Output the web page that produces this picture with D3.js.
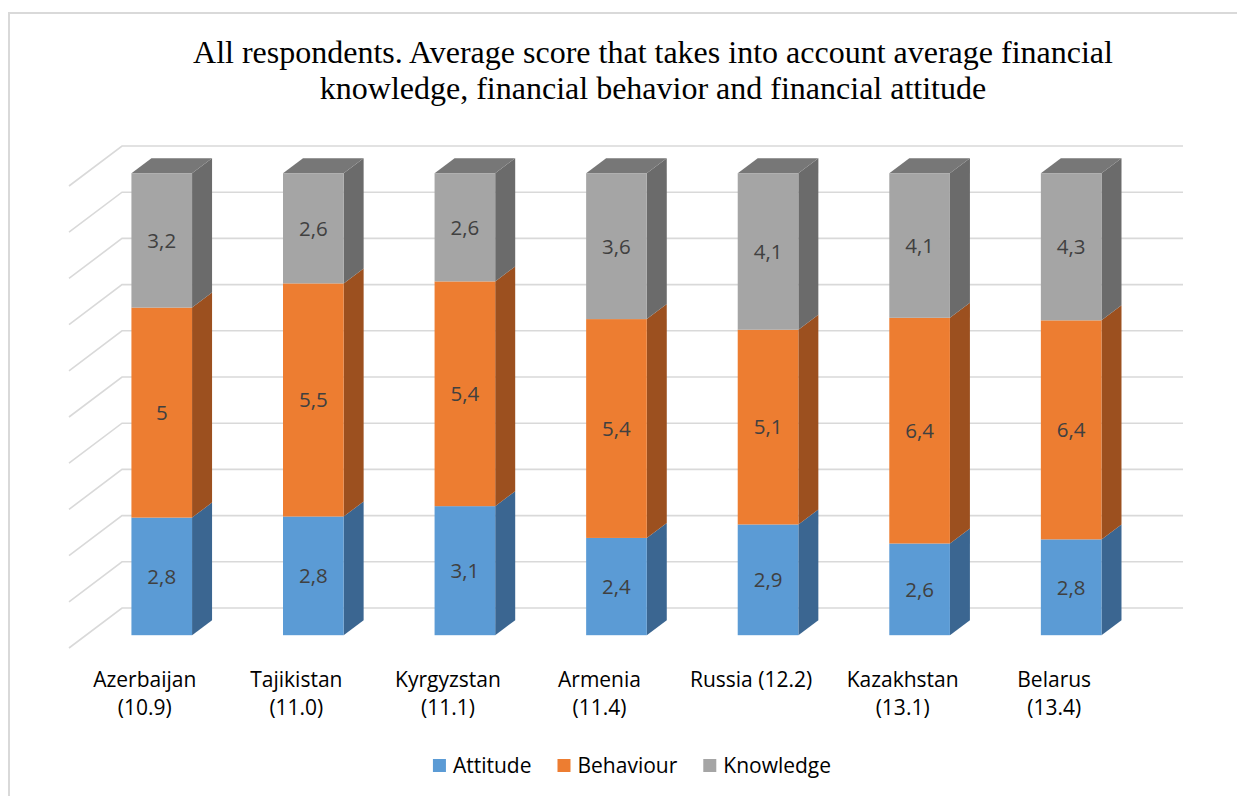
<!DOCTYPE html>
<html>
<head>
<meta charset="utf-8">
<script src="https://cdn.jsdelivr.net/npm/d3@7"></script>
<style>
  html, body { margin: 0; padding: 0; background: #fff; }
  svg { display: block; }
</style>
</head>
<body>
<svg id="chart" width="1237" height="796"></svg>
<script>
// ---------------- DATA ----------------
const categories = ["Azerbaijan", "Tajikistan", "Kyrgyzstan", "Armenia", "Russia", "Kazakhstan", "Belarus"];
const tickLabels = [
  ["Azerbaijan", "(10.9)"],
  ["Tajikistan", "(11.0)"],
  ["Kyrgyzstan", "(11.1)"],
  ["Armenia", "(11.4)"],
  ["Russia (12.2)"],
  ["Kazakhstan", "(13.1)"],
  ["Belarus", "(13.4)"]
];
const attitude  = [2.8, 2.8, 3.1, 2.4, 2.9, 2.6, 2.8];
const behaviour = [5, 5.5, 5.4, 5.4, 5.1, 6.4, 6.4];
const knowledge = [3.2, 2.6, 2.6, 3.6, 4.1, 4.1, 4.3];
const seriesNames = ["Attitude", "Behaviour", "Knowledge"];
const titleLines = [
  "All respondents. Average score that takes into account average financial",
  "knowledge, financial behavior and financial attitude"
];

// ---------------- STYLE ----------------
const colors = {
  Attitude:  { front: "#5B9BD5", side: "#3B6691", top: "#4A80B3" },
  Behaviour: { front: "#ED7D31", side: "#9C501F", top: "#C4652A" },
  Knowledge: { front: "#A5A5A5", side: "#6B6B6B", top: "#777777" }
};
const sansFont = "'Open Sans', 'Noto Sans', Lato, sans-serif";

const svg = d3.select("#chart");

// chart border
svg.append("rect")
  .attr("x", 9).attr("y", 13)
  .attr("width", 1260).attr("height", 800)
  .attr("fill", "none").attr("stroke", "#d9d9d9").attr("stroke-width", 2);

// title
svg.append("g").selectAll("text").data(titleLines).join("text")
  .attr("x", 653)
  .attr("y", (d, i) => 63 + i * 36)
  .attr("text-anchor", "middle")
  .attr("font-family", "'Liberation Serif', 'Times New Roman', serif")
  .attr("font-size", 32)
  .attr("fill", "#000")
  .text(d => d);

// ---------------- DATA PREP ----------------
const rows = categories.map((c, i) => ({
  cat: c,
  Attitude: attitude[i],
  Behaviour: behaviour[i],
  Knowledge: knowledge[i]
}));
const stacked = d3.stack().keys(seriesNames).offset(d3.stackOffsetExpand)(rows);

// ---------------- SCALES ----------------
const xBack = d3.scaleBand().domain(categories).range([122, 1183])
  .paddingInner(0.6).paddingOuter(0.3);
const yBack = d3.scaleLinear().domain([0, 1]).range([608, 146]);

const floorDX = -53, floorDY = 40;
const barFrontFrac = 0.68;
const barDX = 20, barDY = -15;
const fx = x => x + floorDX * barFrontFrac;
const fy = y => y + floorDY * barFrontFrac;

// ---------------- GRID ----------------
const ticks = d3.range(0, 1.0001, 0.1);
const grid = svg.append("g").attr("stroke", "#d9d9d9").attr("stroke-width", 1.6).attr("fill", "none");
grid.selectAll("path").data(ticks).join("path")
  .attr("d", t => {
    const y = yBack(t);
    const x0 = xBack.range()[0], x1 = xBack.range()[1];
    return `M${x0 + floorDX},${y + floorDY}L${x0},${y}L${x1},${y}`;
  });

// ---------------- BARS ----------------
const bw = xBack.bandwidth();
const barsG = svg.append("g");
stacked.forEach((layer, li) => {
  const key = layer.key;
  const col = colors[key];
  const g = barsG.append("g");
  layer.forEach((d, i) => {
    const cat = categories[i];
    const xL = fx(xBack(cat));
    const xR = xL + bw;
    const yB = fy(yBack(d[0]));
    const yT = fy(yBack(d[1]));
    g.append("path")
      .attr("d", `M${xR},${yB}L${xR + barDX},${yB + barDY}L${xR + barDX},${yT + barDY}L${xR},${yT}Z`)
      .attr("fill", col.side);
    if (li === stacked.length - 1) {
      g.append("path")
        .attr("d", `M${xL},${yT}L${xL + barDX},${yT + barDY}L${xR + barDX},${yT + barDY}L${xR},${yT}Z`)
        .attr("fill", col.top);
    }
    g.append("rect")
      .attr("x", xL).attr("y", yT)
      .attr("width", bw).attr("height", yB - yT)
      .attr("fill", col.front);
    g.append("text")
      .attr("x", xL + bw / 2)
      .attr("y", (yB + yT) / 2)
      .attr("dy", "0.36em")
      .attr("text-anchor", "middle")
      .attr("font-family", sansFont)
      .attr("font-size", 20.5)
      .attr("fill", "#404040")
      .text(String(rows[i][key]).replace(".", ","));
  });
});

// ---------------- CATEGORY AXIS LABELS ----------------
const axisG = svg.append("g");
categories.forEach((c, i) => {
  const cx = xBack(c) + bw / 2 + floorDX;
  const t = axisG.append("text")
    .attr("text-anchor", "middle")
    .attr("font-family", sansFont)
    .attr("font-size", 21)
    .attr("fill", "#000");
  tickLabels[i].forEach((line, li) => {
    t.append("tspan").attr("x", cx).attr("y", 687 + li * 28).text(line);
  });
});

// ---------------- LEGEND ----------------
const legend = svg.append("g");
const sq = 13, gapText = 7, gapItem = 26;
let widths = [];
const items = seriesNames.map((name, i) => {
  const it = legend.append("g");
  it.append("rect").attr("width", sq).attr("height", sq).attr("y", -sq / 2 - 0.5)
    .attr("fill", colors[name].front);
  const tx = it.append("text").attr("x", sq + gapText).attr("dy", "0.35em")
    .attr("font-family", sansFont).attr("font-size", 21).attr("fill", "#000").text(name);
  widths.push(sq + gapText + tx.node().getComputedTextLength());
  return it;
});
const total = d3.sum(widths) + gapItem * (widths.length - 1);
let lx = 632 - total / 2;
items.forEach((it, i) => {
  it.attr("transform", `translate(${lx},766)`);
  lx += widths[i] + gapItem;
});
</script>
</body>
</html>
